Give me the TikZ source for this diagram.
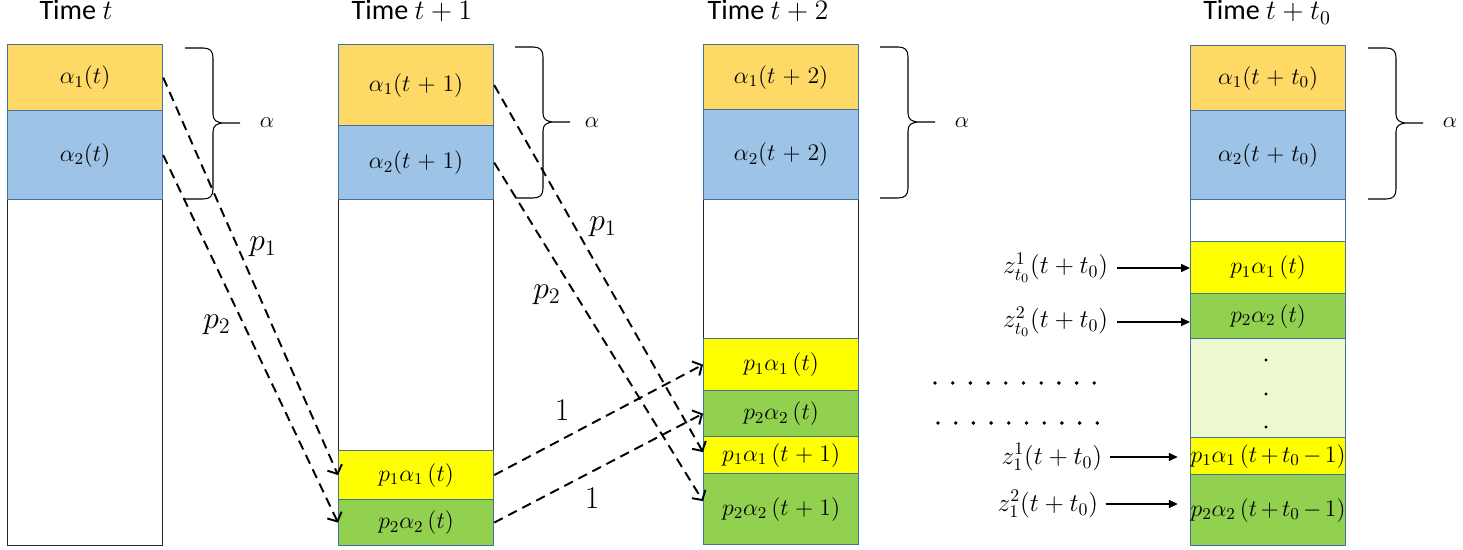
\documentclass[tikz,border=0pt]{standalone}
\usepackage{fix-cm}
\usepackage{fontspec}
\setmainfont{Carlito}
\usetikzlibrary{arrows.meta}

\definecolor{goldcell}{HTML}{FFD966}
\definecolor{bluecell}{HTML}{9DC3E6}
\definecolor{yellowcell}{HTML}{FFFF00}
\definecolor{greencell}{HTML}{92D050}
\definecolor{palecell}{HTML}{EEF8D0}
\definecolor{cellline}{HTML}{41719C}

\tikzset{
  stackbox/.style={draw=black!85, line width=0.8pt, inner sep=0pt, minimum width=3.1cm, minimum height=10.02cm, anchor=north west},
  cell/.style={draw=cellline, line width=0.7pt, inner sep=0pt, text width=3.1cm, align=center, anchor=north west, font=\fontsize{13.5}{15}\selectfont},
  title/.style={anchor=base, font=\fontsize{16}{19}\selectfont},
  problabel/.style={font=\fontsize{18}{21}\selectfont},
  alphalabel/.style={font=\fontsize{13}{15}\selectfont},
  zlabel/.style={anchor=east, inner sep=2pt, font=\fontsize{14.5}{17}\selectfont},
  flow/.style={line width=1.1pt, dash pattern=on 5.5pt off 3.5pt, -{Straight Barb[length=4pt,width=9pt]}},
  pointer/.style={line width=0.75pt, -{Triangle[length=5pt,width=4.5pt]}},
  brace line/.style={line width=0.6pt},
  curly/.pic={
    \draw[brace line] (0,0) -- (18,0) .. controls (25,0) and (28,3) .. (28,10)
      -- (28,66) .. controls (28,72) and (31,75) .. (40,75) -- (55,75)
      (40,75) .. controls (31,75) and (28,78) .. (28,84)
      -- (28,141) .. controls (28,148) and (25,151) .. (18,151) -- (0,151);
  }
}

\begin{document}
\begin{tikzpicture}[x=0.02cm, y=-0.02cm]
\useasboundingbox (0,0) rectangle (1463,550);

%titles
\node[title] (t1) at (76,20) {Time $t$};
\node[title] (t2) at (412,20) {Time $t+1$};
\node[title] (t3) at (768,20) {Time $t+2$};
\node[title] (t4) at (1267,20) {Time $t+t_0$};

%time t
\node[stackbox] (s1) at (7,44) {};
\node[cell, fill=goldcell, minimum height=1.32cm] (c1a) at (7,44) {$\alpha_1(t)$};
\node[cell, fill=bluecell, minimum height=1.78cm] (c1b) at (7,110) {$\alpha_2(t)$};

%time t+1
\node[stackbox] (s2) at (338,44) {};
\node[cell, fill=goldcell, minimum height=1.62cm] (c2a) at (338,44) {$\alpha_1(t+1)$};
\node[cell, fill=bluecell, minimum height=1.48cm] (c2b) at (338,125) {$\alpha_2(t+1)$};
\node[cell, fill=yellowcell, minimum height=0.98cm] (c2c) at (338,450) {$p_1\alpha_1\,(t)$};
\node[cell, fill=greencell, minimum height=0.92cm] (c2d) at (338,499) {$p_2\alpha_2\,(t)$};

%time t+2
\node[stackbox, minimum height=10cm] (s3) at (703,44) {};
\node[cell, fill=goldcell, minimum height=1.30cm] (c3a) at (703,44) {$\alpha_1(t+2)$};
\node[cell, fill=bluecell, minimum height=1.80cm] (c3b) at (703,109) {$\alpha_2(t+2)$};
\node[cell, fill=yellowcell, minimum height=1.04cm] (c3c) at (703,338) {$p_1\alpha_1\,(t)$};
\node[cell, fill=greencell, minimum height=0.92cm] (c3d) at (703,390) {$p_2\alpha_2\,(t)$};
\node[cell, fill=yellowcell, minimum height=0.74cm] (c3e) at (703,436) {$p_1\alpha_1\,(t+1)$};
\node[cell, fill=greencell, minimum height=1.42cm] (c3f) at (703,473) {$p_2\alpha_2\,(t+1)$};

%time t+t0
\node[cell, fill=goldcell, minimum height=1.30cm] (c4a) at (1190,45) {$\alpha_1(t+t_0)$};
\node[cell, fill=bluecell, minimum height=1.78cm] (c4b) at (1190,110) {$\alpha_2(t+t_0)$};
\node[cell, fill=white, minimum height=0.84cm] (c4c) at (1190,199) {};
\node[cell, fill=yellowcell, minimum height=1.04cm] (c4d) at (1190,241) {$p_1\alpha_1\,(t)$};
\node[cell, fill=greencell, minimum height=0.90cm] (c4e) at (1190,293) {$p_2\alpha_2\,(t)$};
\node[cell, fill=palecell, minimum height=1.98cm] (c4f) at (1190,338) {};
\node[cell, fill=yellowcell, minimum height=0.74cm] (c4g) at (1190,437) {$p_1\alpha_1\,(t+t_0-1)$};
\node[cell, fill=greencell, minimum height=1.42cm] (c4h) at (1190,474) {$p_2\alpha_2\,(t+t_0-1)$};
\foreach \y in {360,394,427}
  \fill (1266,\y) circle (0.9pt);

%braces
\pic at (185,48) {curly};
\pic at (515,47) {curly};
\pic at (880,47) {curly};
\pic at (1368,48) {curly};
\node[alphalabel] (b1) at (267,123) {$\alpha$};
\node[alphalabel] (b2) at (592,123) {$\alpha$};
\node[alphalabel] (b3) at (962,123) {$\alpha$};
\node[alphalabel] (b4) at (1450,123) {$\alpha$};

%transitions
\draw[flow] (c1a.east) -- (c2c.west);
\draw[flow] (c1b.east) -- (c2d.west);
\node[problabel] (p1a) at (263,247) {$p_1$};
\node[problabel] (p2a) at (217,325) {$p_2$};

\draw[flow] (c2a.east) -- ([yshift=0.06cm]c3e.west);
\draw[flow] (c2b.east) -- ([yshift=0.16cm]c3f.west);
\draw[flow] (c2c.east) -- (c3c.west);
\draw[flow] (c2d.east) -- (c3d.west);
\node[problabel] (p1b) at (603,227) {$p_1$};
\node[problabel] (p2b) at (547,295) {$p_2$};
\node[problabel] (o1) at (562,410) {$1$};
\node[problabel] (o2) at (592,498) {$1$};

%dots
\foreach \i in {0,...,9} {
  \fill (935+17.7*\i,383) circle (1.1pt);
  \fill (938+17.7*\i,423) circle (1.1pt);
}

%z labels
\node[zlabel] (z1a) at (1112,268) {$z^1_{t_0}(t+t_0)$};
\node[zlabel] (z2a) at (1112,322) {$z^2_{t_0}(t+t_0)$};
\node[zlabel] (z1b) at (1106,457) {$z^1_1(t+t_0)$};
\node[zlabel] (z2b) at (1102,504) {$z^2_1(t+t_0)$};
\draw[pointer, shorten <=3pt] (z1a.east) -- (z1a.east -| c4d.west);
\draw[pointer, shorten <=3pt] (z2a.east) -- (z2a.east -| c4e.west);
\draw[pointer, shorten <=2pt, shorten >=7pt] (z1b.east) -- (z1b.east -| c4g.west);
\draw[pointer, shorten <=2pt, shorten >=7pt] (z2b.east) -- (z2b.east -| c4h.west);
\end{tikzpicture}
\end{document}
